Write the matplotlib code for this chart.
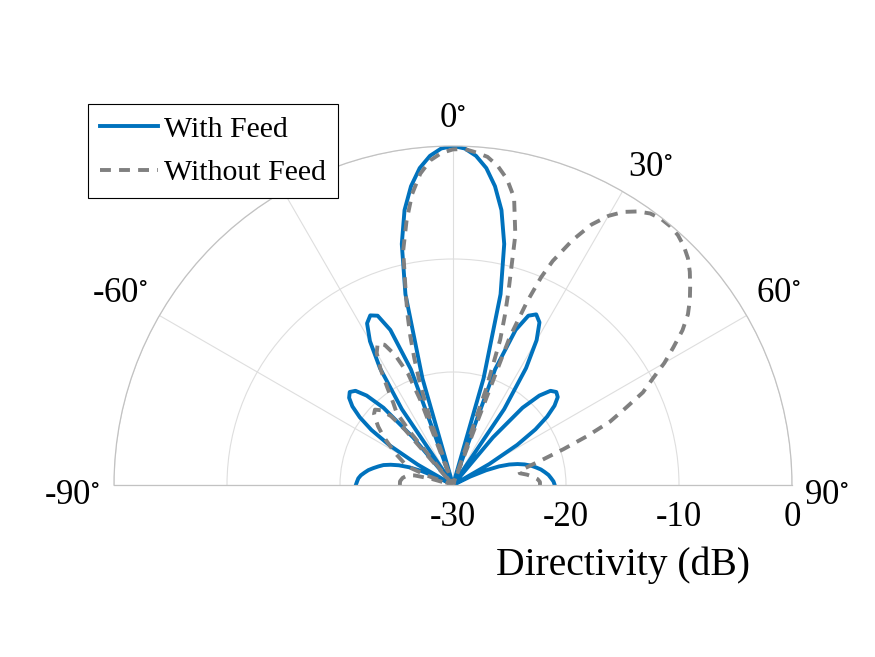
import numpy as np
import matplotlib
matplotlib.use("Agg")
import matplotlib.pyplot as plt
from matplotlib.transforms import offset_copy

# angles in degrees (0 = broadside, clockwise positive), directivity in dB
THETA_WITH = np.arange(-90, 91, 2)
DIR_WITH = [
    -21.4, -21.5, -21.6, -21.8, -22.1, -22.4, -22.8, -23.2, -23.6, -24.2,
    -24.9, -25.8, -27.0, -28.5, -30.0, -26.4, -23.4, -21.3, -19.8, -18.7,
    -18.0, -17.7, -18.0, -19.0, -20.8, -24.5, -30.0, -30.0, -21.9, -17.8,
    -15.3, -13.8, -13.3, -13.6, -15.2, -19.1, -30.0, -20.2, -12.6, -8.2,
    -5.3, -3.3, -1.8, -0.8, -0.2, 0.0, -0.2, -0.8, -1.8, -3.3,
    -5.3, -8.2, -12.6, -20.2, -30.0, -19.1, -15.2, -13.6, -13.2, -13.7,
    -15.2, -17.8, -21.9, -30.0, -30.0, -24.5, -20.8, -19.0, -18.0, -17.7,
    -17.9, -18.6, -19.7, -21.2, -23.3, -26.3, -30.0, -28.3, -26.8, -25.6,
    -24.7, -24.0, -23.4, -22.9, -22.5, -22.1, -21.8, -21.5, -21.3, -21.1, -21.0,
]

THETA_WITHOUT = [
    -90, -88, -86, -84, -82, -80, -78, -76, -74, -72,
    -70, -68, -66, -64, -62, -60, -58, -56, -54, -52,
    -50, -48, -46, -44, -42, -41, -40, -39, -38, -36,
    -34, -32, -30, -28, -26, -24, -22, -21, -20, -19,
    -18, -17, -16, -15, -14, -12, -10, -8, -6, -4,
    -2, 0, 2, 4, 6, 8, 10, 12, 14, 16,
    17, 18, 19, 20, 21, 22, 23, 24, 26, 28,
    30, 32, 34, 36, 38, 40, 42, 44, 46, 48,
    50, 52, 54, 56, 58, 60, 62, 64, 66, 68,
    70, 72, 74, 76, 78, 80, 82, 84, 86, 88, 90,
]
DIR_WITHOUT = [
    -25.3, -25.3, -25.3, -25.4, -25.5, -25.7, -25.9, -26.5, -28.0, -30.0,
    -27.5, -25.9, -25.3, -24.9, -24.4, -23.9, -23.4, -22.8, -22.2, -21.6,
    -21.1, -20.6, -20.4, -20.8, -21.8, -23.5, -30.0, -24.0, -21.9, -21.0,
    -19.6, -17.9, -16.5, -15.8, -16.2, -17.4, -19.4, -22.0, -30.0, -23.5,
    -20.5, -18.3, -16.3, -14.5, -12.8, -8.8, -6.3, -4.0, -2.3, -1.2,
    -0.6, -0.3, -0.25, -0.5, -0.8, -1.5, -2.5, -4.0, -7.2, -12.2,
    -14.3, -16.5, -21.0, -30.0, -16.0, -12.5, -10.0, -8.3, -5.9, -3.9,
    -2.5, -1.5, -0.8, -0.3, -0.1, -0.1, -0.25, -0.6, -1.1, -1.8,
    -2.6, -3.4, -4.3, -5.5, -7.0, -8.4, -10.0, -11.3, -13.3, -15.0,
    -17.4, -19.7, -21.6, -23.0, -24.0, -24.0, -23.4, -22.9, -22.5, -22.3, -22.3,
]

THETA_TICKS = [-90, -60, -30, 0, 30, 60, 90]
THETA_LABELS = [-90, -60, 0, 30, 60, 90]  # -30 sits under the legend
R_TICKS = [-30, -20, -10, 0]
SERIES_NAMES = ["With Feed", "Without Feed"]

plt.rcParams["font.family"] = ["Liberation Serif", "DejaVu Serif"]
plt.rcParams["mathtext.fontset"] = "stix"

fig = plt.figure(figsize=(8.75, 6.57), dpi=100)
# the half wedge only takes the middle half of the box height
ax = fig.add_axes([114 / 875, 2.5 / 657, 678 / 875, 678 / 657], projection="polar")
ax.set_aspect("auto")
ax.set_theta_zero_location("N")
ax.set_theta_direction(-1)
ax.set_thetamin(-90)
ax.set_thetamax(90)
ax.set_rlim(-30, 0)
ax.patch.set_visible(False)

ax.set_thetagrids(THETA_TICKS, labels=[""] * len(THETA_TICKS))
ax.set_rgrids(R_TICKS, labels=[""] * len(R_TICKS))
ax.tick_params(axis="both", length=0)
ax.grid(True, color="#dedede", lw=0.8)
for sp in ax.spines.values():
    sp.set_color("#c2c2c2")
    sp.set_linewidth(0.9)

ax.plot(np.deg2rad(THETA_WITH), DIR_WITH, color="#0072BD", lw=2.8, label=SERIES_NAMES[0])
ax.plot(np.deg2rad(THETA_WITHOUT), DIR_WITHOUT, color="#808080", lw=2.8,
        linestyle=(0, (2.8, 2.1)), label=SERIES_NAMES[1])

# theta labels just outside the rim, nudged (pixels) like matlab places them
nudge = {-90: (-5, -11), -60: (-7, 3), 0: (0, -10), 30: (9, -8), 60: (0, 3), 90: (-3, -11)}
for t in THETA_LABELS:
    dx, dy = nudge[t]
    tr = offset_copy(ax.transData, fig=fig, x=dx, y=dy, units="dots")
    ax.text(np.deg2rad(t), 3.3, f"{t}$^{{\\circ}}$", transform=tr, ha="center",
            va="center", fontsize=25, clip_on=False, zorder=1)

# radial labels under the base line
below = offset_copy(ax.transData, fig=fig, y=-33, units="dots")
for r in R_TICKS:
    ax.text(np.deg2rad(90), r, f"{r}", transform=below, ha="center", va="center",
            fontsize=25, clip_on=False)

xlab = offset_copy(ax.transData, fig=fig, y=-80, units="dots")
ax.text(np.deg2rad(90), -15, "Directivity (dB)", transform=xlab, ha="center",
        va="center", fontsize=28.5, clip_on=False)

leg = ax.legend(loc="upper left", bbox_to_anchor=(88 / 875, 1 - 104 / 657),
                bbox_transform=fig.transFigure, borderaxespad=0, fontsize=21.5,
                fancybox=False, framealpha=1, edgecolor="black",
                handlelength=1.95, handletextpad=0.2, borderpad=0.4, labelspacing=0.56)
leg.get_frame().set_linewidth(0.8)
leg.set_zorder(10)

fig.savefig("out.png", dpi=100)
